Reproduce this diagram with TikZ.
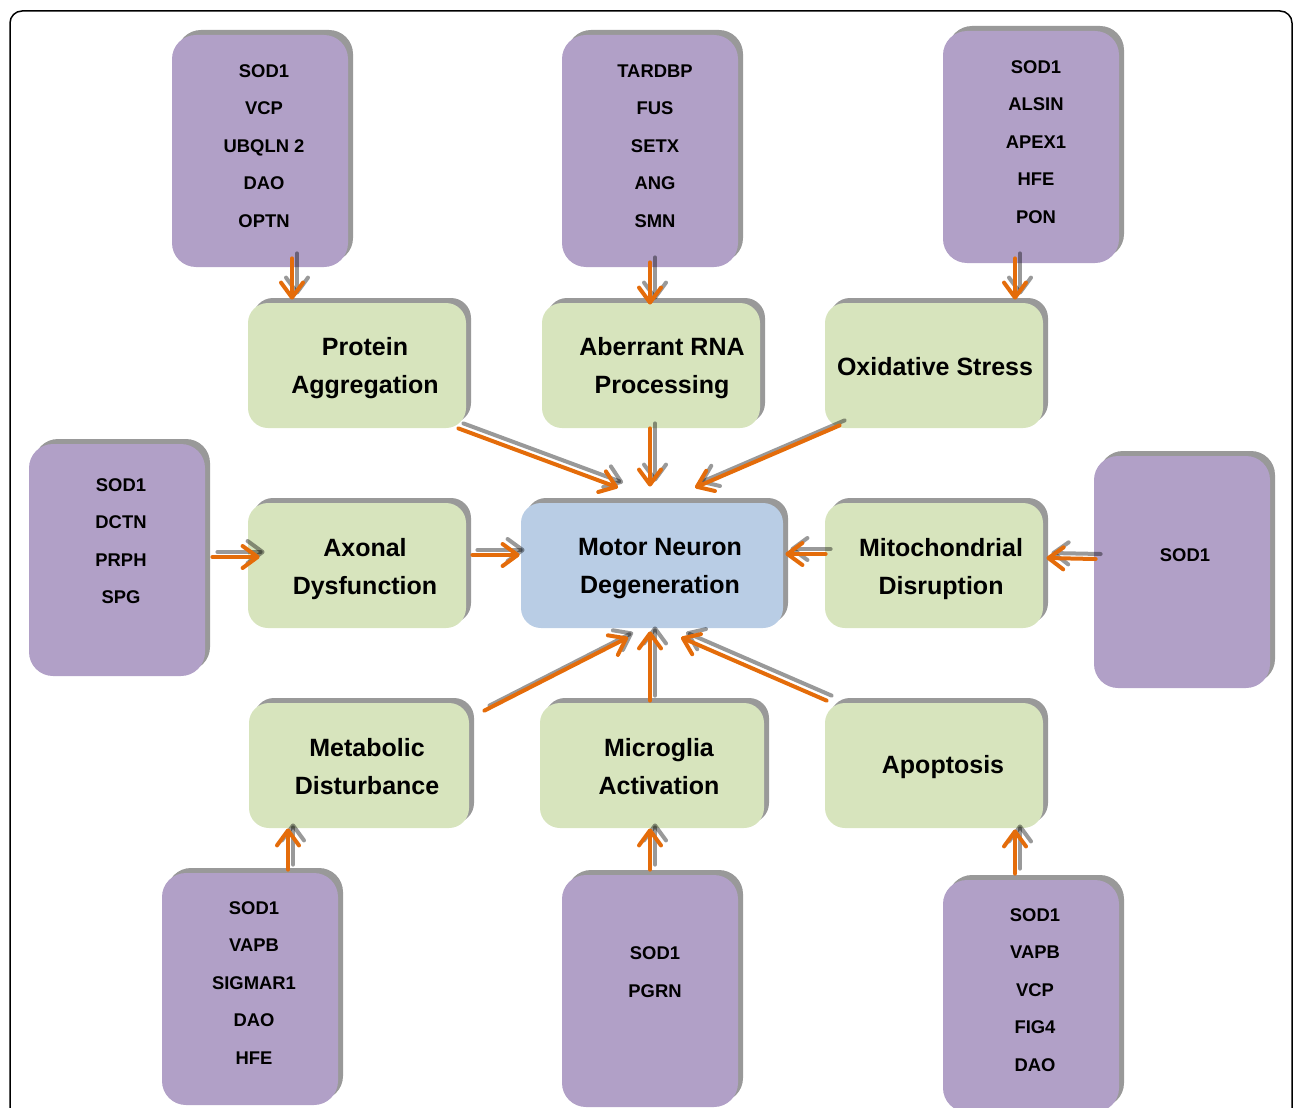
\documentclass[tikz,border=0pt]{standalone}
\usepackage{fontspec}
\setmainfont{Liberation Sans}
\usepackage{tikz}
\usetikzlibrary{arrows.meta,calc,shadows,positioning}
\definecolor{genepurple}{HTML}{B1A0C7}
\definecolor{procgreen}{HTML}{D7E4BD}
\definecolor{mndblue}{HTML}{B9CDE5}
\definecolor{floworange}{HTML}{E46C0A}
\tikzset{
  gene/.style={rounded corners=12pt, fill=genepurple, minimum width=88pt, minimum height=116pt, inner sep=0pt, general shadow={fill=black!40, shadow xshift=2.5pt, shadow yshift=2.5pt}},
  proc/.style={rounded corners=10pt, fill=procgreen, minimum width=109pt, minimum height=62.5pt, inner sep=0pt, general shadow={fill=black!40, shadow xshift=2.5pt, shadow yshift=2.5pt}},
  genetxt/.style={font=\fontsize{9.2}{18.75}\selectfont\bfseries, align=center, inner sep=0pt},
  proctxt/.style={font=\fontsize{12.5}{19}\selectfont\bfseries, align=center, inner sep=0pt},
  flow/.style={draw=floworange, line width=2pt, line cap=round, -{Straight Barb[length=7.5pt,width=11pt,round]}},
  flowshadow/.style={flow, draw=black!40, blend mode=multiply, transform canvas={xshift=2.5pt,yshift=2.5pt}}
}
\newcommand{\flowarrow}[2]{\draw[flowshadow] #1 -- #2; \draw[flow] #1 -- #2;}
\begin{document}
\begin{tikzpicture}[x=0.5pt,y=-0.5pt]
\useasboundingbox (0,0) rectangle (1293,1107);
\clip (0,0) rectangle (1293,1107);
\draw[line width=0.75pt, rounded corners=6pt] (10,11) rectangle (1292,1130);

% gene boxes
\node[gene] (g1) at (260,151) {};
\node[gene] (g2) at (650,151) {};
\node[gene] (g3) at (1031,147) {};
\node[gene] (g4) at (117,560) {};
\node[gene] (g5) at (1182,572) {};
\node[gene] (g6) at (250,989) {};
\node[gene] (g7) at (650,991) {};
\node[gene] (g8) at (1031,996) {};
\node[genetxt] (g1t) at (264,146) {SOD1\\VCP\\UBQLN 2\\DAO\\OPTN};
\node[genetxt] (g2t) at (655,146) {TARDBP\\FUS\\SETX\\ANG\\SMN};
\node[genetxt] (g3t) at (1036,142) {SOD1\\ALSIN\\APEX1\\HFE\\PON};
\node[genetxt] (g4t) at (121,541) {SOD1\\DCTN\\PRPH\\SPG};
\node[genetxt] (g5t) at (1185,555) {SOD1};
\node[genetxt] (g6t) at (254,983) {SOD1\\VAPB\\SIGMAR1\\DAO\\HFE};
\node[genetxt] (g7t) at (655,972) {SOD1\\PGRN};
\node[genetxt] (g8t) at (1035,990) {SOD1\\VAPB\\VCP\\FIG4\\DAO};

% processes
\node[proc] (prot) at (357,365.5) {};
\node[proc] (rna) at (651,365.5) {};
\node[proc] (oxi) at (934,365.5) {};
\node[proc] (axon) at (357,565.5) {};
\node[proc, fill=mndblue, minimum width=131pt] (mnd) at (652,565.5) {};
\node[proc] (mito) at (934,565.5) {};
\node[proc, minimum width=110pt] (meta) at (359,765.5) {};
\node[proc, minimum width=112pt] (micro) at (652,765.5) {};
\node[proc] (apop) at (934,765.5) {};
\node[proctxt] (prott) at (365,368) {Protein\\Aggregation};
\node[proctxt] (rnat) at (662,368) {Aberrant RNA\\Processing};
\node[proctxt] (oxit) at (935,367) {Oxidative Stress};
\node[proctxt] (axont) at (365,569) {Axonal\\Dysfunction};
\node[proctxt] (mndt) at (660,569) {Motor Neuron\\Degeneration};
\node[proctxt] (mitot) at (941,569) {Mitochondrial\\Disruption};
\node[proctxt] (metat) at (367,767) {Metabolic\\Disturbance};
\node[proctxt] (microt) at (659,767) {Microglia\\Activation};
\node[proctxt] (apopt) at (943,767) {Apoptosis};

% arrows
\flowarrow{([shift={(32,-9)}]g1.south)}{([shift={(-65,-3)}]prot.north)}
\flowarrow{([shift={(0,-5)}]g2.south)}{([shift={(-1,2)}]rna.north)}
\flowarrow{([shift={(-16,-5)}]g3.south)}{([shift={(81,-3)}]oxi.north)}
\flowarrow{([shift={(-8,0)}]prot.south east)}{([shift={(-34,-15)}]mnd.north)}
\flowarrow{([shift={(-1,0)}]rna.south)}{([shift={(-2,-16)}]mnd.north)}
\flowarrow{([shift={(15,-3)}]oxi.south west)}{([shift={(43,-15)}]mnd.north)}
\flowarrow{([shift={(7,-3)}]g4.east)}{([shift={(12,-8.5)}]axon.west)}
\flowarrow{([shift={(6,-10.5)}]axon.east)}{([shift={(-1,-10.5)}]mnd.west)}
\flowarrow{([shift={(1,-11.5)}]mito.west)}{([shift={(2,-11.5)}]mnd.east)}
\flowarrow{([shift={(2,-13)}]g5.west)}{([shift={(3,-7.5)}]mito.east)}
\flowarrow{([shift={(15,8)}]meta.north east)}{([shift={(-24,9)}]mnd.south)}
\flowarrow{([shift={(-2,-2)}]micro.north)}{([shift={(-2,3)}]mnd.south)}
\flowarrow{([shift={(2,-2)}]apop.north west)}{([shift={(29,9)}]mnd.south)}
\flowarrow{([shift={(38,-3)}]g6.north)}{([shift={(-71,0)}]meta.south)}
\flowarrow{([shift={(0,-5)}]g7.north)}{([shift={(-2,0)}]micro.south)}
\flowarrow{([shift={(-16,-6)}]g8.north)}{([shift={(81,1)}]apop.south)}
\end{tikzpicture}
\end{document}
